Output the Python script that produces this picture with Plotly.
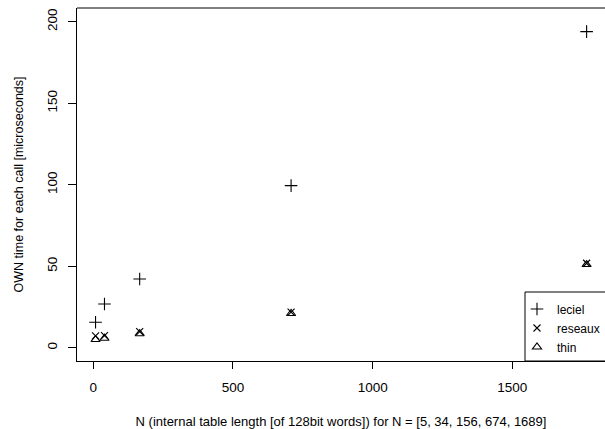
import plotly.graph_objects as go

# Data
x_pos = [8, 40, 166, 708, 1766]
leciel = [15.6, 26.8, 42.1, 99.4, 193.9]
reseaux = [7.2, 7.4, 9.8, 21.8, 51.8]
thin = [5.0, 5.8, 8.6, 21.0, 51.0]

series_names = ["leciel", "reseaux", "thin"]
series_values = [leciel, reseaux, thin]
series_symbols = ["cross-thin-open", "x-thin-open", "triangle-up-open"]
series_sizes = [9, 7, 8]

x_ticks = [0, 500, 1000, 1500]
y_ticks = [0, 50, 100, 150, 200]

x_title = "N (internal table length [of 128bit words]) for N = [5, 34, 156, 674, 1689]"
y_title = "OWN time for each call [microseconds]"

FONT = "Liberation Sans, Arial, Helvetica, sans-serif"

fig = go.Figure()
for name, vals, sym, sz in zip(series_names, series_values, series_symbols, series_sizes):
    fig.add_trace(go.Scatter(
        x=x_pos, y=vals, mode="markers", name=name,
        marker=dict(symbol=sym, size=sz, color="black",
                    line=dict(color="black", width=1.1)),
    ))

fig.update_layout(
    width=605, height=429,
    margin=dict(l=77, r=0, t=8, b=68),
    paper_bgcolor="white", plot_bgcolor="white",
    font=dict(family=FONT, size=12, color="black"),
    showlegend=True,
    legend=dict(
        x=1.0, y=(361 - 328) / 353, xanchor="right", yanchor="middle",
        bgcolor="rgba(0,0,0,0)", borderwidth=0,
        font=dict(family=FONT, size=12, color="black"),
        tracegroupgap=0, itemsizing="trace",
    ),
    xaxis=dict(
        range=[-58.4, 1831.8], tickmode="array", tickvals=x_ticks,
        ticktext=[str(v) for v in x_ticks],
        showgrid=False, zeroline=False,
        showline=True, linecolor="black", linewidth=1,
        ticks="outside", ticklen=7, tickwidth=1, tickcolor="black",
        tickfont=dict(family=FONT, size=13.5, color="black"),
        ticklabelstandoff=7,
        title=dict(text=x_title, font=dict(family=FONT, size=13, color="black"),
                   standoff=23),
        automargin=False,
    ),
    yaxis=dict(
        range=[-8.16, 208.4], tickmode="array", tickvals=y_ticks,
        ticktext=[str(v) for v in y_ticks],
        showgrid=False, zeroline=False,
        showline=True, linecolor="black", linewidth=1,
        ticks="outside", ticklen=8, tickwidth=1, tickcolor="black",
        tickangle=-90,
        tickfont=dict(family=FONT, size=13.5, color="black"),
        ticklabelstandoff=6,
        title=dict(text=y_title, font=dict(family=FONT, size=12.5, color="black"),
                   standoff=18),
        automargin=False,
    ),
)

# top border of the plot box (right border lies outside the visible window)
fig.add_shape(type="line", xref="paper", yref="paper", x0=0, x1=1.01, y0=1, y1=1,
              line=dict(color="black", width=1))
# legend frame
fig.add_shape(type="rect", xref="paper", yref="paper",
              x0=(525 - 77) / 528, x1=1.02, y0=0, y1=(361 - 292) / 353,
              line=dict(color="black", width=1), fillcolor="rgba(0,0,0,0)")

fig.write_html("out.html")
